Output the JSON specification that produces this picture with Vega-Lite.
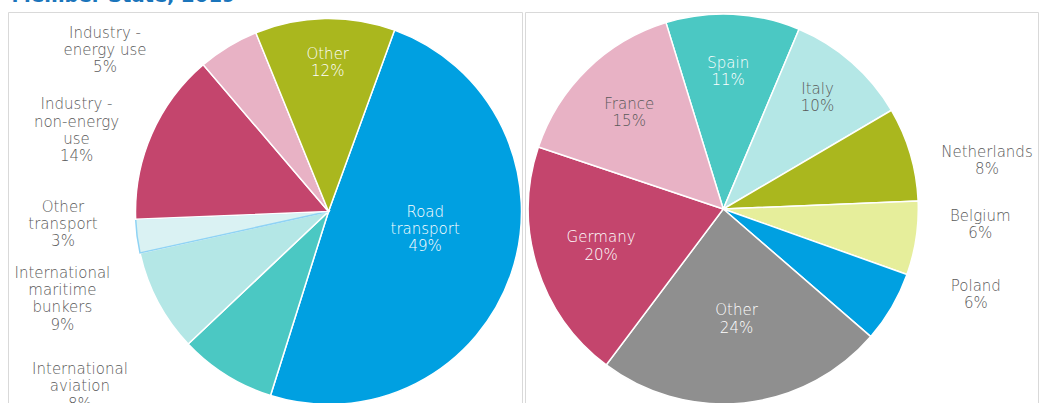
{
  "$schema": "https://vega.github.io/schema/vega-lite/v6.json",
  "padding": {"left": 7, "top": -14, "right": 0, "bottom": 0},
  "title": {"text": "Member State, 2019", "anchor": "start", "fontSize": 19.5, "fontWeight": "bold", "color": "#1B75BB", "font": "DejaVu Sans", "offset": 4, "dx": 4},
  "datasets": {
    "sectors": [
      {"cat": "Road transport", "value": 49.3, "n": 1, "label": "Road\ntransport\n49%"},
      {"cat": "International aviation", "value": 8.1, "n": 2, "label": "International\naviation\n8%"},
      {"cat": "International maritime bunkers", "value": 8.6, "n": 3, "label": "International\nmaritime\nbunkers\n9%"},
      {"cat": "Other transport", "value": 2.8, "n": 4, "label": "Other\ntransport\n3%"},
      {"cat": "Industry - non-energy use", "value": 14.4, "n": 5, "label": "Industry -\nnon-energy\nuse\n14%"},
      {"cat": "Industry - energy use", "value": 5.1, "n": 6, "label": "Industry -\nenergy use\n5%"},
      {"cat": "Other", "value": 11.7, "n": 7, "label": "Other\n12%"}
    ],
    "countries": [
      {"cat": "Spain", "value": 11.1, "n": 1, "label": "Spain\n11%"},
      {"cat": "Italy", "value": 10.2, "n": 2, "label": "Italy\n10%"},
      {"cat": "Netherlands", "value": 7.8, "n": 3, "label": "Netherlands\n8%"},
      {"cat": "Belgium", "value": 6.1, "n": 4, "label": "Belgium\n6%"},
      {"cat": "Poland", "value": 5.9, "n": 5, "label": "Poland\n6%"},
      {"cat": "Other", "value": 23.9, "n": 6, "label": "Other\n24%"},
      {"cat": "Germany", "value": 19.9, "n": 7, "label": "Germany\n20%"},
      {"cat": "France", "value": 15.1, "n": 8, "label": "France\n15%"}
    ]
  },
  "spacing": -1,
  "resolve": {"scale": {"theta": "independent", "color": "independent"}},
  "config": {
    "view": {"stroke": "#D9D9D9", "strokeWidth": 1},
    "text": {"font": "DejaVu Sans", "fontWeight": 200, "fontSize": 15, "lineHeight": 17.3, "align": "center", "baseline": "middle", "lineBreak": "\n"}
  },
  "hconcat": [
    {
      "width": 514,
      "height": 395,
      "view": {"stroke": "#D9D9D9", "strokeWidth": 1},
      "data": {"name": "sectors"},
      "encoding": {
        "theta": {"field": "value", "type": "quantitative", "stack": true, "scale": {"range": [0.3491, 6.6323]}},
        "order": {"field": "n", "type": "quantitative"}
      },
      "layer": [
        {
          "mark": {"type": "arc", "x": 320.5, "y": 199.5, "outerRadius": 193, "stroke": "white", "strokeWidth": 1.5},
          "encoding": {
            "color": {"field": "cat", "type": "nominal", "legend": null,
              "scale": {"domain": ["Road transport", "International aviation", "International maritime bunkers", "Other transport", "Industry - non-energy use", "Industry - energy use", "Other"],
                        "range": ["#00A0E1", "#4BC8C3", "#B4E7E6", "#DAF2F3", "#C4456D", "#E8B2C5", "#AAB71E"]}},
            "stroke": {"condition": {"test": "datum.cat === 'Other transport'", "value": "#8FD3F4"}, "value": "white"}
          }
        },
        {
          "mark": {"type": "text", "x": 320.5, "y": 199.5, "radius": 100, "color": "white",
                   "dx": {"expr": "datum.cat === 'Road transport' ? 2 : 0"}, "dy": {"expr": "datum.cat === 'Road transport' ? -32 : 0"}},
          "encoding": {"text": {"condition": {"test": "datum.cat === 'Road transport'", "field": "label"}, "value": ""}}
        },
        {
          "mark": {"type": "text", "x": 320.5, "y": 199.5, "radius": 150, "color": "white",
                   "dx": {"expr": "datum.cat === 'Other' ? 2 : 0"}, "dy": {"expr": "datum.cat === 'Other' ? -8 : 0"}},
          "encoding": {"text": {"condition": {"test": "datum.cat === 'Other'", "field": "label"}, "value": ""}}
        },
        {
          "mark": {"type": "text", "x": 320.5, "y": 199.5, "radius": 180, "color": "#595959",
                   "dx": {"expr": "datum.cat === 'Industry - energy use' ? -130 : 0"}, "dy": {"expr": "datum.cat === 'Industry - energy use' ? -25 : 0"}},
          "encoding": {"text": {"condition": {"test": "datum.cat === 'Industry - energy use'", "field": "label"}, "value": ""}}
        },
        {
          "mark": {"type": "text", "x": 320.5, "y": 199.5, "radius": 180, "color": "#595959",
                   "dx": {"expr": "datum.cat === 'Industry - non-energy use' ? -87 : 0"}, "dy": {"expr": "datum.cat === 'Industry - non-energy use' ? -35 : 0"}},
          "encoding": {"text": {"condition": {"test": "datum.cat === 'Industry - non-energy use'", "field": "label"}, "value": ""}}
        },
        {
          "mark": {"type": "text", "x": 320.5, "y": 199.5, "radius": 180, "color": "#595959",
                   "dx": {"expr": "datum.cat === 'Other transport' ? -87 : 0"}, "dy": {"expr": "datum.cat === 'Other transport' ? -28 : 0"}},
          "encoding": {"text": {"condition": {"test": "datum.cat === 'Other transport'", "field": "label"}, "value": ""}}
        },
        {
          "mark": {"type": "text", "x": 320.5, "y": 199.5, "radius": 180, "color": "#595959",
                   "dx": {"expr": "datum.cat === 'International maritime bunkers' ? -107 : 0"}, "dy": {"expr": "datum.cat === 'International maritime bunkers' ? -23 : 0"}},
          "encoding": {"text": {"condition": {"test": "datum.cat === 'International maritime bunkers'", "field": "label"}, "value": ""}}
        },
        {
          "mark": {"type": "text", "x": 320.5, "y": 199.5, "radius": 180, "color": "#595959",
                   "dx": {"expr": "datum.cat === 'International aviation' ? -153 : 0"}, "dy": {"expr": "datum.cat === 'International aviation' ? 5 : 0"}},
          "encoding": {"text": {"condition": {"test": "datum.cat === 'International aviation'", "field": "label"}, "value": ""}}
        }
      ]
    },
    {
      "width": 513,
      "height": 395,
      "view": {"stroke": "#D9D9D9", "strokeWidth": 1},
      "data": {"name": "countries"},
      "encoding": {
        "theta": {"field": "value", "type": "quantitative", "stack": true, "scale": {"range": [-0.2985, 5.9847]}},
        "order": {"field": "n", "type": "quantitative"}
      },
      "layer": [
        {
          "mark": {"type": "arc", "x": 198.3, "y": 197, "outerRadius": 195, "stroke": "white", "strokeWidth": 1.5},
          "encoding": {
            "color": {"field": "cat", "type": "nominal", "legend": null,
              "scale": {"domain": ["Spain", "Italy", "Netherlands", "Belgium", "Poland", "Other", "Germany", "France"],
                        "range": ["#4BC8C3", "#B4E7E6", "#AAB71E", "#E6EE9B", "#00A0E1", "#8F8F8F", "#C4456D", "#E8B2C5"]}}
          }
        },
        {
          "mark": {"type": "text", "x": 198.3, "y": 195.5, "radius": 137, "color": "white",
                   "dx": {"expr": "datum.cat === 'Spain' ? -2 : 0"}, "dy": {"expr": "datum.cat === 'Spain' ? -8 : 0"}},
          "encoding": {"text": {"condition": {"test": "datum.cat === 'Spain'", "field": "label"}, "value": ""}}
        },
        {
          "mark": {"type": "text", "x": 198.3, "y": 195.5, "radius": 146, "color": "#595959",
                   "dx": {"expr": "datum.cat === 'Italy' ? -2 : 0"}, "dy": {"expr": "datum.cat === 'Italy' ? -8.5 : 0"}},
          "encoding": {"text": {"condition": {"test": "datum.cat === 'Italy'", "field": "label"}, "value": ""}}
        },
        {
          "mark": {"type": "text", "x": 198.3, "y": 195.5, "radius": 134, "color": "#595959",
                   "dx": {"expr": "datum.cat === 'France' ? -0.5 : 0"}, "dy": {"expr": "datum.cat === 'France' ? -7.6 : 0"}},
          "encoding": {"text": {"condition": {"test": "datum.cat === 'France'", "field": "label"}, "value": ""}}
        },
        {
          "mark": {"type": "text", "x": 198.3, "y": 195.5, "radius": 128, "color": "white",
                   "dy": {"expr": "datum.cat === 'Germany' ? -8.3 : 0"}},
          "encoding": {"text": {"condition": {"test": "datum.cat === 'Germany'", "field": "label"}, "value": ""}}
        },
        {
          "mark": {"type": "text", "x": 198.3, "y": 195.5, "radius": 111, "color": "white",
                   "dx": {"expr": "datum.cat === 'Other' ? 1.4 : 0"}, "dy": {"expr": "datum.cat === 'Other' ? -7.6 : 0"}},
          "encoding": {"text": {"condition": {"test": "datum.cat === 'Other'", "field": "label"}, "value": ""}}
        },
        {
          "mark": {"type": "text", "x": 198.3, "y": 195.5, "radius": 180, "color": "#595959",
                   "dx": {"expr": "datum.cat === 'Netherlands' ? 91 : 0"}, "dy": {"expr": "datum.cat === 'Netherlands' ? -5 : 0"}},
          "encoding": {"text": {"condition": {"test": "datum.cat === 'Netherlands'", "field": "label"}, "value": ""}}
        },
        {
          "mark": {"type": "text", "x": 198.3, "y": 195.5, "radius": 180, "color": "#595959",
                   "dx": {"expr": "datum.cat === 'Belgium' ? 79 : 0"}, "dy": {"expr": "datum.cat === 'Belgium' ? -19 : 0"}},
          "encoding": {"text": {"condition": {"test": "datum.cat === 'Belgium'", "field": "label"}, "value": ""}}
        },
        {
          "mark": {"type": "text", "x": 198.3, "y": 195.5, "radius": 180, "color": "#595959",
                   "dx": {"expr": "datum.cat === 'Poland' ? 97 : 0"}, "dy": {"expr": "datum.cat === 'Poland' ? -12 : 0"}},
          "encoding": {"text": {"condition": {"test": "datum.cat === 'Poland'", "field": "label"}, "value": ""}}
        }
      ]
    }
  ]
}
